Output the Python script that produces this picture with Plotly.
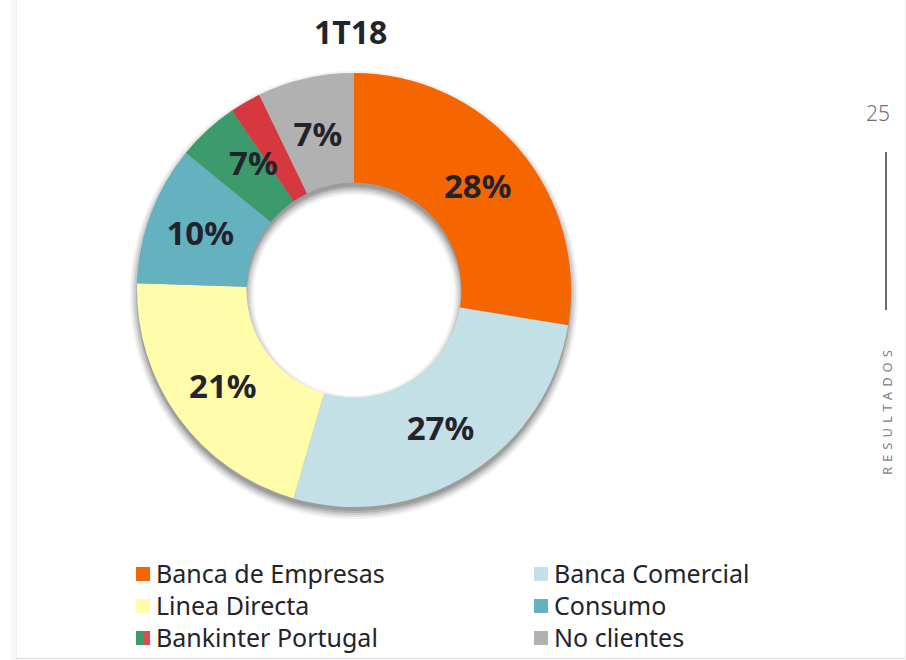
import plotly.graph_objects as go

# ---------------- data ----------------
title_text = "1T18"
slice_names = ["Banca de Empresas", "Banca Comercial", "Linea Directa", "Consumo",
               "Bankinter Portugal (a)", "Bankinter Portugal (b)", "No clientes"]
slice_values = [27.6, 26.9, 21.0, 10.4, 4.6, 2.3, 7.2]
slice_colors = ["#F56600", "#C2E0E5", "#FFFCAA", "#64B1BF", "#3D9B6B", "#D7383F", "#B1B1B1"]

label_groups = ["Banca de Empresas", "Banca Comercial", "Linea Directa", "Consumo",
                "Bankinter Portugal", "No clientes"]
label_values = [27.6, 26.9, 21.0, 10.4, 6.9, 7.2]
label_texts = ["28%", "27%", "21%", "10%", "7%", "7%"]
label_is_small = [False, False, False, False, True, True]

legend_names = ["Banca de Empresas", "Banca Comercial", "Linea Directa", "Consumo",
                "Bankinter Portugal", "No clientes"]
legend_colors = [["#F56600"], ["#C2E0E5"], ["#FFFCAA"], ["#64B1BF"],
                 ["#3D9B6B", "#E04A50"], ["#B1B1B1"]]

page_number = "25"
section_name = "RESULTADOS"

# ---------------- layout helpers ----------------
W, H = 906, 660
FONT = "Noto Sans"
TXT = "#23232b"


def px_x(x):
    return x / W


def px_y(y):
    return 1 - y / H


def domain(cx, cy, r):
    return dict(x=[px_x(cx - r), px_x(cx + r)], y=[px_y(cy + r), px_y(cy - r)])


CX, CY, R = 354, 290, 217
HOLE = 0.495
R_IN = R * HOLE

fig = go.Figure()

# soft drop shadow layers (offset downwards, spread for blur)
for dy, spread, alpha in [(5, 7, 0.05), (5, 5, 0.07), (5, 3, 0.09), (5, 1, 0.12), (4, 0, 0.12)]:
    ro = R + spread
    ri = R_IN - spread
    fig.add_trace(go.Pie(
        values=[1], marker=dict(colors=[f"rgba(0,0,0,{alpha})"]),
        domain=domain(CX, CY + dy, ro), hole=ri / ro,
        textinfo="none", hoverinfo="skip", showlegend=False, sort=False,
    ))

# coloured ring
fig.add_trace(go.Pie(
    labels=slice_names, values=slice_values,
    marker=dict(colors=slice_colors, line=dict(width=0)),
    domain=domain(CX, CY, R), hole=HOLE,
    direction="clockwise", rotation=0, sort=False,
    textinfo="none", showlegend=False,
))

# percentage labels on transparent rings:
# large slices on the full ring, small slices on a narrower ring (keeps them mid-ring)
for small, r_t, hole_t in [(False, R, HOLE), (True, 197, 0.635)]:
    texts = [t if s == small else "" for t, s in zip(label_texts, label_is_small)]
    fig.add_trace(go.Pie(
        labels=label_groups, values=label_values, text=texts,
        marker=dict(colors=["rgba(0,0,0,0)"] * len(label_values), line=dict(width=0)),
        domain=domain(CX, CY, r_t), hole=hole_t,
        direction="clockwise", rotation=0, sort=False,
        textinfo="text", textposition="inside", insidetextorientation="horizontal",
        textfont=dict(family=FONT, size=33, color=TXT, weight="bold"),
        hoverinfo="skip", showlegend=False,
    ))

shapes = []
annotations = []

# title
annotations.append(dict(
    text=title_text, x=px_x(350), y=px_y(31), xref="paper", yref="paper",
    showarrow=False, xanchor="center", yanchor="middle",
    font=dict(family=FONT, size=32, color=TXT, weight="bold"),
))

# custom legend
col_x = [136, 534]
row_y = [574, 606, 638]
SQ = 14
for i, (name, cols) in enumerate(zip(legend_names, legend_colors)):
    cx0 = col_x[i % 2]
    cy = row_y[i // 2]
    n = len(cols)
    for k, c in enumerate(cols):
        shapes.append(dict(
            type="rect", xref="paper", yref="paper",
            x0=px_x(cx0 + SQ * k / n), x1=px_x(cx0 + SQ * (k + 1) / n),
            y0=px_y(cy + SQ / 2), y1=px_y(cy - SQ / 2),
            fillcolor=c, line=dict(width=0),
        ))
    annotations.append(dict(
        text=name, x=px_x(cx0 + SQ + 4), y=px_y(cy - 1), xref="paper", yref="paper",
        showarrow=False, xanchor="left", yanchor="middle",
        font=dict(family=FONT, size=25, color=TXT),
    ))

# right margin: page number, line, section name
annotations.append(dict(
    text=page_number, x=px_x(878), y=px_y(113), xref="paper", yref="paper",
    showarrow=False, xanchor="center", yanchor="middle",
    font=dict(family=FONT, size=21, color="#707070", weight=300),
))
shapes.append(dict(type="line", xref="paper", yref="paper",
                   x0=px_x(886), x1=px_x(886), y0=px_y(152), y1=px_y(310),
                   line=dict(color="#3a3a3a", width=1.5)))
annotations.append(dict(
    text=section_name, x=px_x(887), y=px_y(410), xref="paper", yref="paper",
    showarrow=False, xanchor="center", yanchor="middle", textangle=-90,
    font=dict(family=FONT, size=13, color="#808080"),
))

# page edges
shapes.append(dict(type="rect", xref="paper", yref="paper",
                   x0=px_x(11), x1=px_x(17), y0=0, y1=1,
                   fillcolor="#f7f7f7", line=dict(width=0), layer="below"))
shapes.append(dict(type="line", xref="paper", yref="paper",
                   x0=px_x(16.5), x1=px_x(16.5), y0=0, y1=1,
                   line=dict(color="#eeeeee", width=1)))
shapes.append(dict(type="line", xref="paper", yref="paper",
                   x0=px_x(17), x1=1, y0=px_y(658.5), y1=px_y(658.5),
                   line=dict(color="#e2e2e2", width=1.5)))
shapes.append(dict(type="line", xref="paper", yref="paper",
                   x0=px_x(905.5), x1=px_x(905.5), y0=0, y1=1,
                   line=dict(color="#efefef", width=1)))

fig.update_layout(
    width=W, height=H,
    margin=dict(l=0, r=0, t=0, b=0),
    paper_bgcolor="white", plot_bgcolor="white",
    shapes=shapes, annotations=annotations,
    uniformtext=dict(minsize=33, mode="show"),
    font=dict(family=FONT),
)

post = """
document.body.style.margin = '0';
document.body.style.padding = '0';
document.querySelectorAll('text.annotation-text').forEach(function(t){
  if (t.textContent === 'RESULTADOS') { t.style.letterSpacing = '5px'; }
});
"""

fig.write_html("out.html", post_script=post, config={"displayModeBar": False})
